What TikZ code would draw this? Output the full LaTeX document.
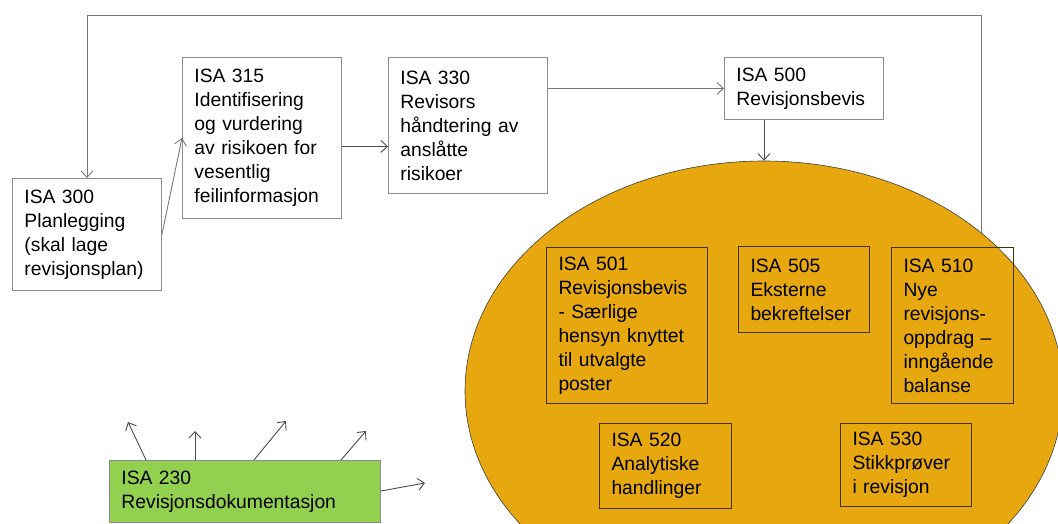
\documentclass[tikz,border=0pt]{standalone}
\usepackage{fontspec}
\setmainfont{Liberation Sans}
\usetikzlibrary{shapes.geometric,arrows.meta,calc}
\definecolor{gold}{RGB}{230,168,14}
\definecolor{lgreen}{RGB}{146,208,80}
\definecolor{boxgray}{RGB}{140,140,140}
\definecolor{linegray}{RGB}{120,120,120}
\definecolor{innerline}{RGB}{70,50,0}
\begin{document}
\begin{tikzpicture}[x=1pt,y=-1pt,
  font=\fontsize{19.3}{24}\selectfont,
  box/.style={draw=boxgray, line width=0.9pt, anchor=north west, align=left, inner xsep=12pt, inner ysep=0pt},
  inbox/.style={box, draw=innerline, line width=1pt},
  gbox/.style={box, fill=lgreen, draw=boxgray},
  conn/.style={draw=linegray, line width=0.9pt, -{Straight Barb[length=6.5pt,width=12pt]}},
  dconn/.style={conn, draw=black!70}]
\useasboundingbox (0,0) rectangle (1058,524);
\clip (0,0) rectangle (1058,524);
\fill[white] (0,0) rectangle (1058,524);

% boxes of the top row
\node[box, text width=125pt, minimum height=112pt] (isa300) at (12,178) {ISA 300\\Planlegging\\(skal lage\\revisjonsplan)};
\node[box, text width=135pt, minimum height=161pt] (isa315) at (182,57) {ISA 315\\Identifisering\\og vurdering\\av risikoen for\\vesentlig\\feilinformasjon};
\node[box, text width=135pt, minimum height=136pt] (isa330) at (388,57) {ISA 330\\Revisors\\håndtering av\\anslåtte\\risikoer};
\node[box, text width=135pt, minimum height=62pt] (isa500) at (724,57) {ISA 500\\Revisjonsbevis};

% feedback loop (behind the ellipse)
\coordinate (fbstart) at (981,300);
\coordinate (fbtop) at (981,15);
\draw[conn] (fbstart) -- (fbtop) -- (isa300.north |- fbtop) -- (isa300.north);

% ellipse
\node[ellipse, draw=black!75, fill=gold, line width=0.6pt, minimum width=598pt, minimum height=460pt, inner sep=0pt] (ell) at (764,391) {};

% inner boxes
\node[inbox, text width=137pt, minimum height=156pt] (isa501) at (546,247) {ISA 501\\Revisjonsbevis\\- Særlige\\hensyn knyttet\\til utvalgte\\poster};
\node[inbox, text width=107pt, minimum height=86pt] (isa505) at (738,246) {ISA 505\\Eksterne\\bekreftelser};
\node[inbox, text width=98pt, minimum height=156pt] (isa510) at (891,247) {ISA 510\\Nye\\revisjons-\\oppdrag –\\inngående\\balanse};
\node[inbox, text width=108pt, minimum height=85pt] (isa520) at (599,423) {ISA 520\\Analytiske\\handlinger};
\node[inbox, text width=107pt, minimum height=83pt] (isa530) at (840,423) {ISA 530\\Stikkprøver\\i revisjon};

% green box
\node[gbox, text width=247pt, minimum height=62pt] (isa230) at (109,460) {ISA 230\\Revisjonsdokumentasjon};

% connectors of the top row
\draw[conn] (isa300.east) -- (isa315.west);
\draw[dconn] ([yshift=-8.5pt]isa315.east) -- ([yshift=-8.5pt]isa315.east -| isa330.west);
\draw[conn] (isa330.east |- isa500.west) -- (isa500.west);
\draw[dconn] (isa500.south -| ell.north) -- (ell.north);

% arrows out of ISA 230
\coordinate (t1) at (128,422);
\coordinate (t2) at (195,431);
\coordinate (t3) at (286,421);
\coordinate (t4) at (366,431);
\coordinate (t5) at (425,483);
\draw[dconn] ($(isa230.north west)+(37,0)$) -- (t1);
\draw[dconn] ($(isa230.north west)+(86,0)$) -- (t2);
\draw[dconn] ($(isa230.north west)+(145,0)$) -- (t3);
\draw[dconn] ($(isa230.north west)+(232,0)$) -- (t4);
\draw[dconn] ($(isa230.north east)+(0,31)$) -- (t5);
\end{tikzpicture}
\end{document}
